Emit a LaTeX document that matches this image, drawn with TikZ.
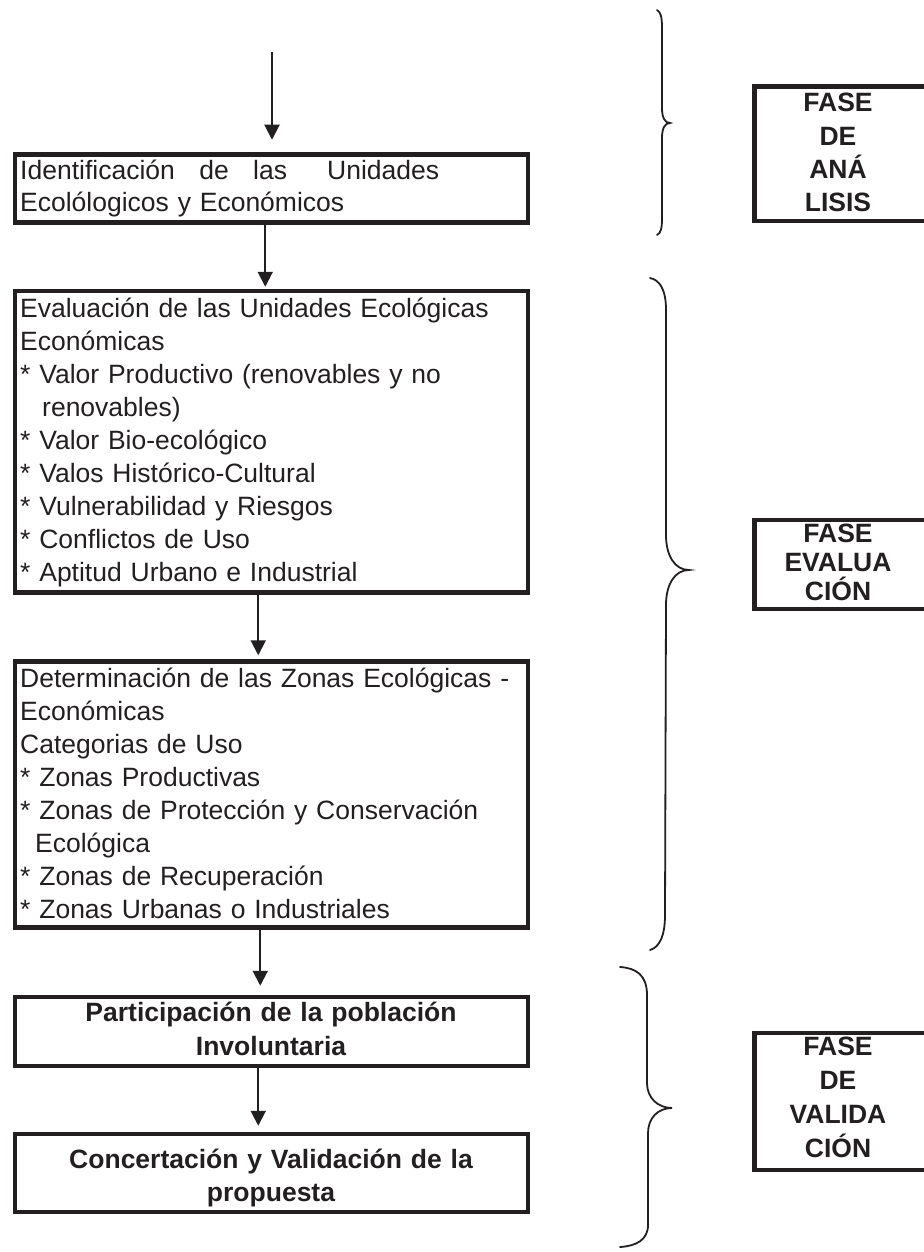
\documentclass[tikz,border=0pt]{standalone}
\usepackage{fontspec}
\setmainfont{Liberation Sans}
\usetikzlibrary{arrows.meta}
\definecolor{ink}{RGB}{35,31,32}
\begin{document}
\begin{tikzpicture}[x=1pt,y=-1pt,
  flowbox/.style={draw=ink, line width=4.5pt, inner sep=0pt, minimum width=513pt},
  fasebox/.style={inner sep=0pt, minimum width=172pt},
  fasebord/.style={draw=ink, line width=4.5pt},
  bodytxt/.style={inner sep=0pt, anchor=base west, text width=505pt, align=left, text=ink, font=\fontsize{26.5}{33}\selectfont},
  boldtxt/.style={inner sep=0pt, anchor=base, text width=505pt, align=center, text=ink, font=\fontsize{26.5}{34}\selectfont\bfseries},
  fasetxt/.style={inner sep=0pt, anchor=base, text width=170pt, align=center, text=ink},
  arr/.style={draw=ink, line width=2pt, -{Triangle[width=15pt,length=15pt]}},
  brace/.style={draw=ink, line width=1.8pt, line cap=round}]
\useasboundingbox (0,0) rectangle (923,1252);

% flow boxes
\node[flowbox, minimum height=68pt]  (b1) at (271.25,188.5) {};
\node[flowbox, minimum height=301.5pt] (b2) at (271.25,441.75) {};
\node[flowbox, minimum height=266pt] (b3) at (271.25,794.5) {};
\node[flowbox, minimum height=69pt]  (b4) at (271.25,1031.5) {};
\node[flowbox, minimum height=78pt]  (b5) at (271.25,1173) {};

% texts
\node[bodytxt, font=\fontsize{26.5}{32}\selectfont] (t1) at (20,180)
  {\hbox to 419pt{Identificación\hfill\ de\hfill\ las\hfill\hfill\ Unidades}\\Ecolólogicos y Económicos};
\node[bodytxt] (t2) at (20,317)
  {Evaluación de las Unidades Ecológicas\\
   Económicas\\
   {}* Valor Productivo (renovables y no\\
   \hspace*{22pt}renovables)\\
   {}* Valor Bio-ecológico\\
   {}* Valos Histórico-Cultural\\
   {}* Vulnerabilidad y Riesgos\\
   {}* Conflictos de Uso\\
   {}* Aptitud Urbano e Industrial};
\node[bodytxt] (t3) at (20,687)
  {Determinación de las Zonas Ecológicas -\\
   Económicas\\
   Categorias de Uso\\
   {}* Zonas Productivas\\
   {}* Zonas de Protección y Conservación\\
   \hspace*{15pt}Ecológica\\
   {}* Zonas de Recuperación\\
   {}* Zonas Urbanas o Industriales};
\node[boldtxt] (t4) at (271,1021) {Participación de la población\\Involuntaria};
\node[boldtxt, font=\fontsize{26.5}{33}\selectfont\bfseries] (t5) at (271,1168) {Concertación y Validación de la\\propuesta};

% arrows
\coordinate (s0) at (272,52);
\draw[arr, shorten >=12.5pt] (s0) -- ([xshift=0.75pt]b1.north);
\draw[arr, shorten >=2pt] ([xshift=-6pt]b1.south) -- ([xshift=-6pt]b2.north);
\draw[arr, shorten >=4pt] ([xshift=-13pt]b2.south) -- ([xshift=-13pt]b3.north);
\draw[arr, shorten >=9pt] ([xshift=-11pt]b3.south) -- ([xshift=-11pt]b4.north);
\draw[arr, shorten >=6pt] ([xshift=-13pt]b4.south) -- ([xshift=-13pt]b5.north);

% braces
\draw[brace] (657,10) .. controls (661,12) and (662,18) .. (662,28) -- (662,108)
  .. controls (662,118) and (665,123) .. (670,123)
  .. controls (665,123) and (662,128) .. (662,138) -- (662,218)
  .. controls (662,228) and (661,233) .. (657,235);
\draw[brace] (650,278) .. controls (660,280) and (666,290) .. (666,310) -- (666,535)
  .. controls (666,556) and (675,570) .. (689,570)
  .. controls (675,570) and (666,584) .. (666,605) -- (665,915)
  .. controls (665,935) and (660,947) .. (650,950);
\draw[brace] (620,967) .. controls (636,968) and (647,975) .. (647,995) -- (647,1083)
  .. controls (647,1098) and (658,1108) .. (672,1108)
  .. controls (658,1108) and (648,1118) .. (648,1133) -- (648,1225)
  .. controls (648,1240) and (636,1246) .. (620,1247);

% phase boxes
\node[fasebox, minimum height=134.5pt] (fa) at (840.5,153.75) {};
\draw[fasebord] (fa.north east) -- (fa.north west) -- (fa.south west) -- (fa.south east);
\node[fasetxt, font=\fontsize{26.5}{33.3}\selectfont\bfseries] (fat) at (838,112) {FASE\\DE\\ANÁ\\LISIS};

\node[fasebox, minimum height=89pt] (fb) at (840.5,564.5) {};
\draw[fasebord] (fb.north east) -- (fb.north west) -- (fb.south west) -- (fb.south east);
\node[fasetxt, font=\fontsize{26.5}{29.2}\selectfont\bfseries] (fbt) at (838,542) {FASE\\EVALUA\\CIÓN};

\node[fasebox, minimum height=137pt] (fc) at (840.5,1101.5) {};
\draw[fasebord] (fc.north east) -- (fc.north west) -- (fc.south west) -- (fc.south east);
\node[fasetxt, font=\fontsize{26.5}{34.3}\selectfont\bfseries] (fct) at (838,1055) {FASE\\DE\\VALIDA\\CIÓN};
\end{tikzpicture}
\end{document}
